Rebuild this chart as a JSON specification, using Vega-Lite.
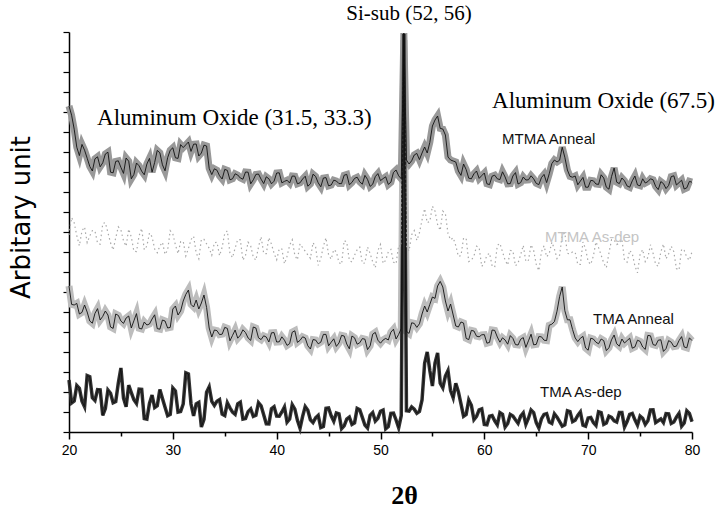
{
  "$schema": "https://vega.github.io/schema/vega-lite/v6.json",
  "width": 623,
  "height": 400,
  "autosize": "none",
  "padding": {"left": 69, "top": 32, "right": 27, "bottom": 84},
  "background": "white",
  "config": {
    "view": {"stroke": null},
    "axis": {"grid": false, "domainColor": "black", "tickColor": "black", "labelColor": "black", "titleColor": "black"},
    "axisX": {"domainWidth": 1.5, "tickWidth": 1.5, "labelFont": "Liberation Sans", "labelFontSize": 14, "labelPadding": 4, "labelFlush": false,
      "titleFont": "Liberation Serif", "titleFontSize": 26, "titleFontWeight": "bold", "titleX": 335, "titleY": 71, "titleBaseline": "alphabetic", "titleAlign": "center"},
    "axisY": {"domainWidth": 1.5, "tickWidth": 1.2, "tickSize": 6, "titleFont": "DejaVu Sans", "titleFontSize": 26, "titleFontWeight": "normal",
      "titleAngle": -90, "titleX": -48, "titleY": 185, "titleAlign": "center", "titleBaseline": "middle"}
  },
  "datasets": {
    "xrd": [
      {"x":20,"a":2.6,"b":7.3,"c":9.86,"d":16.3},
      {"x":20.25,"a":1.45,"b":6.38,"c":10.72,"d":15.84},
      {"x":20.5,"a":1.55,"b":6.35,"c":10.46,"d":15.14},
      {"x":20.75,"a":2.32,"b":6.43,"c":9.82,"d":14.24},
      {"x":21,"a":2.18,"b":5.9,"c":9.31,"d":13.82},
      {"x":21.25,"a":1.54,"b":5.98,"c":10.06,"d":14.38},
      {"x":21.5,"a":1.26,"b":6.35,"c":10.25,"d":14.09},
      {"x":21.75,"a":2.82,"b":6.0,"c":9.47,"d":13.69},
      {"x":22,"a":2.76,"b":5.55,"c":9.8,"d":13.28},
      {"x":22.25,"a":1.72,"b":5.44,"c":10.07,"d":13.05},
      {"x":22.5,"a":1.58,"b":5.93,"c":10.05,"d":13.66},
      {"x":22.75,"a":2.12,"b":6.17,"c":9.44,"d":13.76},
      {"x":23,"a":2.11,"b":5.6,"c":9.39,"d":13.26},
      {"x":23.25,"a":0.83,"b":5.78,"c":10.42,"d":13.46},
      {"x":23.5,"a":1.17,"b":6.05,"c":10.47,"d":13.9},
      {"x":23.75,"a":2.1,"b":5.85,"c":9.97,"d":13.99},
      {"x":24,"a":1.94,"b":5.25,"c":9.46,"d":12.99},
      {"x":24.25,"a":1.46,"b":5.18,"c":9.1,"d":12.96},
      {"x":24.5,"a":1.52,"b":5.9,"c":9.71,"d":13.53},
      {"x":24.75,"a":2.45,"b":5.83,"c":10.26,"d":13.56},
      {"x":25,"a":3.2,"b":5.55,"c":10.1,"d":13.23},
      {"x":25.25,"a":1.69,"b":5.43,"c":9.56,"d":12.93},
      {"x":25.5,"a":1.26,"b":5.7,"c":9.29,"d":13.7},
      {"x":25.75,"a":2.34,"b":5.8,"c":10.15,"d":13.54},
      {"x":26,"a":1.97,"b":5.2,"c":9.75,"d":12.66},
      {"x":26.25,"a":1.61,"b":5.56,"c":9.04,"d":12.88},
      {"x":26.5,"a":1.42,"b":5.92,"c":9.02,"d":13.45},
      {"x":26.75,"a":2.14,"b":5.19,"c":9.81,"d":13.31},
      {"x":27,"a":2.13,"b":5.15,"c":10.18,"d":13.04},
      {"x":27.25,"a":0.67,"b":5.5,"c":9.11,"d":12.86},
      {"x":27.5,"a":0.64,"b":5.35,"c":9.3,"d":13.4},
      {"x":27.75,"a":1.43,"b":5.4,"c":9.95,"d":13.68},
      {"x":28,"a":1.85,"b":5.65,"c":9.76,"d":12.99},
      {"x":28.25,"a":1.22,"b":5.86,"c":9.15,"d":13.48},
      {"x":28.5,"a":1.31,"b":5.17,"c":8.96,"d":14.08},
      {"x":28.75,"a":2.12,"b":5.14,"c":9.3,"d":13.96},
      {"x":29,"a":1.67,"b":5.6,"c":9.49,"d":13.36},
      {"x":29.25,"a":1.24,"b":5.55,"c":8.88,"d":13.06},
      {"x":29.5,"a":0.81,"b":5.2,"c":9.1,"d":13.72},
      {"x":29.75,"a":0.88,"b":5.23,"c":10.07,"d":14.09},
      {"x":30,"a":2.2,"b":6.15,"c":9.91,"d":14.21},
      {"x":30.25,"a":2.05,"b":6.3,"c":9.35,"d":13.71},
      {"x":30.5,"a":0.99,"b":5.85,"c":8.92,"d":13.68},
      {"x":30.75,"a":1.02,"b":6.05,"c":9.51,"d":14.37},
      {"x":31,"a":1.4,"b":6.55,"c":9.54,"d":14.22},
      {"x":31.25,"a":2.96,"b":6.88,"c":8.8,"d":14.36},
      {"x":31.5,"a":2.9,"b":7.1,"c":9.17,"d":14.5},
      {"x":31.75,"a":1.4,"b":6.38,"c":9.62,"d":14.03},
      {"x":32,"a":0.8,"b":6.25,"c":9.79,"d":14.39},
      {"x":32.25,"a":1.41,"b":6.6,"c":8.95,"d":14.4},
      {"x":32.5,"a":1.48,"b":6.15,"c":8.66,"d":13.8},
      {"x":32.75,"a":0.25,"b":6.45,"c":9.64,"d":13.95},
      {"x":33,"a":0.63,"b":6.85,"c":9.63,"d":14.34},
      {"x":33.25,"a":1.99,"b":6.23,"c":9.41,"d":14.3},
      {"x":33.5,"a":2.26,"b":5.2,"c":9.19,"d":13.18},
      {"x":33.75,"a":1.53,"b":4.75,"c":8.84,"d":12.87},
      {"x":34,"a":1.33,"b":5.1,"c":9.46,"d":13.16},
      {"x":34.25,"a":1.54,"b":5.07,"c":9.49,"d":13.09},
      {"x":34.5,"a":1.62,"b":4.87,"c":8.82,"d":12.81},
      {"x":34.75,"a":0.89,"b":4.89,"c":9.24,"d":12.65},
      {"x":35,"a":0.82,"b":5.23,"c":9.93,"d":13.13},
      {"x":35.25,"a":1.46,"b":5.18,"c":10.06,"d":13.08},
      {"x":35.5,"a":1.21,"b":4.56,"c":8.93,"d":12.61},
      {"x":35.75,"a":0.99,"b":4.83,"c":8.72,"d":12.66},
      {"x":36,"a":0.88,"b":5.1,"c":9.2,"d":12.91},
      {"x":36.25,"a":1.41,"b":4.69,"c":9.62,"d":12.85},
      {"x":36.5,"a":1.49,"b":4.84,"c":9.61,"d":12.7},
      {"x":36.75,"a":0.64,"b":5.11,"c":8.59,"d":12.64},
      {"x":37,"a":0.67,"b":4.97,"c":8.83,"d":13.0},
      {"x":37.25,"a":1.02,"b":4.7,"c":9.49,"d":12.99},
      {"x":37.5,"a":1.15,"b":4.58,"c":9.3,"d":12.41},
      {"x":37.75,"a":0.78,"b":5.25,"c":8.74,"d":12.61},
      {"x":38,"a":0.84,"b":5.2,"c":8.59,"d":12.88},
      {"x":38.25,"a":1.47,"b":4.71,"c":9.25,"d":12.9},
      {"x":38.5,"a":1.31,"b":4.62,"c":9.77,"d":12.64},
      {"x":38.75,"a":0.86,"b":4.81,"c":8.93,"d":12.42},
      {"x":39,"a":0.41,"b":4.75,"c":8.92,"d":12.76},
      {"x":39.25,"a":0.4,"b":4.5,"c":9.72,"d":12.66},
      {"x":39.5,"a":1.16,"b":4.96,"c":9.39,"d":12.41},
      {"x":39.75,"a":1.26,"b":4.97,"c":8.93,"d":12.54},
      {"x":40,"a":0.8,"b":4.5,"c":8.61,"d":12.95},
      {"x":40.25,"a":0.79,"b":4.51,"c":9.16,"d":12.96},
      {"x":40.5,"a":1.0,"b":4.76,"c":9.15,"d":12.46},
      {"x":40.75,"a":1.25,"b":4.59,"c":8.41,"d":12.53},
      {"x":41,"a":0.49,"b":4.33,"c":8.79,"d":12.59},
      {"x":41.25,"a":0.65,"b":4.42,"c":9.34,"d":12.45},
      {"x":41.5,"a":1.36,"b":4.99,"c":9.61,"d":12.8},
      {"x":41.75,"a":1.14,"b":5.06,"c":8.83,"d":12.79},
      {"x":42,"a":0.58,"b":4.48,"c":8.61,"d":12.41},
      {"x":42.25,"a":0.18,"b":4.58,"c":9.41,"d":12.46},
      {"x":42.5,"a":0.78,"b":4.76,"c":9.22,"d":12.65},
      {"x":42.75,"a":1.27,"b":4.7,"c":9.04,"d":12.79},
      {"x":43,"a":1.09,"b":4.31,"c":8.86,"d":12.29},
      {"x":43.25,"a":0.61,"b":4.15,"c":8.68,"d":12.41},
      {"x":43.5,"a":0.47,"b":4.62,"c":9.47,"d":12.89},
      {"x":43.75,"a":0.71,"b":4.6,"c":9.25,"d":12.78},
      {"x":44,"a":0.83,"b":4.41,"c":8.33,"d":12.46},
      {"x":44.25,"a":0.22,"b":4.49,"c":8.67,"d":12.26},
      {"x":44.5,"a":0.27,"b":4.88,"c":9.29,"d":12.7},
      {"x":44.75,"a":1.18,"b":4.88,"c":9.71,"d":12.72},
      {"x":45,"a":1.2,"b":4.31,"c":8.86,"d":12.31},
      {"x":45.25,"a":0.81,"b":4.49,"c":8.64,"d":12.35},
      {"x":45.5,"a":0.54,"b":4.66,"c":9.12,"d":12.59},
      {"x":45.75,"a":0.95,"b":4.28,"c":9.01,"d":12.55},
      {"x":46,"a":0.91,"b":4.45,"c":8.47,"d":12.42},
      {"x":46.25,"a":0.17,"b":4.83,"c":8.39,"d":12.42},
      {"x":46.5,"a":0.31,"b":4.8,"c":9.57,"d":12.84},
      {"x":46.75,"a":0.64,"b":4.4,"c":9.5,"d":12.88},
      {"x":47,"a":0.74,"b":4.16,"c":8.58,"d":12.36},
      {"x":47.25,"a":0.38,"b":4.8,"c":8.5,"d":12.48},
      {"x":47.5,"a":0.46,"b":4.71,"c":8.84,"d":12.68},
      {"x":47.75,"a":1.18,"b":4.39,"c":9.11,"d":12.74},
      {"x":48,"a":1.11,"b":4.46,"c":9.24,"d":12.51},
      {"x":48.25,"a":0.73,"b":4.67,"c":8.43,"d":12.39},
      {"x":48.5,"a":0.34,"b":4.64,"c":8.45,"d":12.83},
      {"x":48.75,"a":0.2,"b":4.12,"c":9.25,"d":12.63},
      {"x":49,"a":0.83,"b":4.31,"c":8.93,"d":12.28},
      {"x":49.25,"a":0.97,"b":4.89,"c":8.5,"d":12.39},
      {"x":49.5,"a":0.55,"b":4.98,"c":8.21,"d":12.77},
      {"x":49.75,"a":0.69,"b":4.59,"c":9.08,"d":12.92},
      {"x":50,"a":1.04,"b":4.44,"c":9.38,"d":12.57},
      {"x":50.25,"a":1.1,"b":4.6,"c":8.43,"d":12.67},
      {"x":50.5,"a":0.16,"b":4.68,"c":8.59,"d":12.76},
      {"x":50.75,"a":0.27,"b":4.6,"c":9.0,"d":12.38},
      {"x":51,"a":0.93,"b":4.99,"c":9.13,"d":12.49},
      {"x":51.25,"a":0.94,"b":5.14,"c":8.49,"d":12.98},
      {"x":51.5,"a":0.6,"b":4.65,"c":8.41,"d":13.1},
      {"x":51.75,"a":0.21,"b":4.88,"c":9.33,"d":12.81},
      {"x":52,"a":0.82,"b":5.18,"c":9.27,"d":12.66},
      {"x":52.25,"a":19.9,"b":19.6,"c":18.8,"d":19.95},
      {"x":52.5,"a":1.06,"b":5.03,"c":9.22,"d":13.6},
      {"x":52.75,"a":1.04,"b":4.93,"c":9.05,"d":13.4},
      {"x":53,"a":1.25,"b":5.46,"c":9.86,"d":13.56},
      {"x":53.25,"a":1.14,"b":5.43,"c":10.07,"d":13.85},
      {"x":53.5,"a":0.94,"b":5.23,"c":9.58,"d":13.93},
      {"x":53.75,"a":1.03,"b":5.41,"c":9.96,"d":13.62},
      {"x":54,"a":1.6,"b":5.9,"c":10.61,"d":13.95},
      {"x":54.25,"a":3.44,"b":6.3,"c":11.17,"d":14.25},
      {"x":54.5,"a":4.0,"b":6.0,"c":10.46,"d":13.95},
      {"x":54.75,"a":3.07,"b":6.38,"c":10.53,"d":14.48},
      {"x":55,"a":2.3,"b":6.75,"c":11.29,"d":15.3},
      {"x":55.25,"a":3.45,"b":6.68,"c":11.04,"d":15.6},
      {"x":55.5,"a":3.95,"b":7.3,"c":10.37,"d":15.8},
      {"x":55.75,"a":2.44,"b":7.53,"c":10.08,"d":15.18},
      {"x":56,"a":2.21,"b":7.25,"c":11.05,"d":15.15},
      {"x":56.25,"a":2.8,"b":6.55,"c":10.91,"d":14.85},
      {"x":56.5,"a":3.07,"b":6.05,"c":9.93,"d":13.75},
      {"x":56.75,"a":2.07,"b":6.4,"c":9.61,"d":13.6},
      {"x":57,"a":1.71,"b":5.85,"c":9.71,"d":13.55},
      {"x":57.25,"a":2.43,"b":5.3,"c":9.32,"d":13.5},
      {"x":57.5,"a":2.02,"b":5.25,"c":8.78,"d":13.05},
      {"x":57.75,"a":1.41,"b":5.5,"c":8.82,"d":12.83},
      {"x":58,"a":0.79,"b":5.45,"c":9.7,"d":13.4},
      {"x":58.25,"a":0.88,"b":4.68,"c":9.67,"d":13.12},
      {"x":58.5,"a":1.6,"b":4.62,"c":8.52,"d":12.69},
      {"x":58.75,"a":1.34,"b":5.08,"c":8.59,"d":12.66},
      {"x":59,"a":0.62,"b":5.05,"c":8.8,"d":12.91},
      {"x":59.25,"a":0.78,"b":4.79,"c":9.29,"d":13.05},
      {"x":59.5,"a":1.11,"b":4.76,"c":9.22,"d":12.68},
      {"x":59.75,"a":1.16,"b":4.86,"c":8.28,"d":12.82},
      {"x":60,"a":0.38,"b":4.87,"c":8.45,"d":12.95},
      {"x":60.25,"a":0.36,"b":4.44,"c":8.84,"d":12.41},
      {"x":60.5,"a":0.79,"b":4.48,"c":8.94,"d":12.37},
      {"x":60.75,"a":0.82,"b":5.1,"c":8.31,"d":12.79},
      {"x":61,"a":0.56,"b":5.08,"c":8.24,"d":12.84},
      {"x":61.25,"a":0.36,"b":4.75,"c":9.33,"d":12.66},
      {"x":61.5,"a":0.97,"b":4.49,"c":9.43,"d":12.62},
      {"x":61.75,"a":0.88,"b":4.71,"c":9.01,"d":13.01},
      {"x":62,"a":0.25,"b":4.6,"c":8.59,"d":12.75},
      {"x":62.25,"a":0.43,"b":4.39,"c":8.35,"d":12.41},
      {"x":62.5,"a":0.88,"b":4.82,"c":9.08,"d":12.42},
      {"x":62.75,"a":0.8,"b":4.68,"c":9.05,"d":12.8},
      {"x":63,"a":0.61,"b":4.37,"c":8.31,"d":12.97},
      {"x":63.25,"a":0.43,"b":4.35,"c":8.45,"d":12.4},
      {"x":63.5,"a":0.79,"b":4.64,"c":8.87,"d":12.47},
      {"x":63.75,"a":0.95,"b":4.72,"c":9.33,"d":12.75},
      {"x":64,"a":0.38,"b":4.23,"c":8.52,"d":12.6},
      {"x":64.25,"a":0.69,"b":4.56,"c":8.59,"d":12.61},
      {"x":64.5,"a":1.1,"b":4.89,"c":9.36,"d":12.81},
      {"x":64.75,"a":0.97,"b":4.36,"c":9.08,"d":12.66},
      {"x":65,"a":0.47,"b":4.38,"c":8.38,"d":12.43},
      {"x":65.25,"a":0.2,"b":4.77,"c":8.07,"d":12.37},
      {"x":65.5,"a":0.65,"b":4.76,"c":9.01,"d":12.72},
      {"x":65.75,"a":0.88,"b":4.59,"c":9.31,"d":12.88},
      {"x":66,"a":0.92,"b":4.57,"c":8.76,"d":12.47},
      {"x":66.25,"a":0.5,"b":5.34,"c":8.92,"d":12.91},
      {"x":66.5,"a":0.43,"b":5.39,"c":9.49,"d":13.42},
      {"x":66.75,"a":0.91,"b":5.52,"c":9.15,"d":13.6},
      {"x":67,"a":0.74,"b":6.04,"c":8.67,"d":13.5},
      {"x":67.25,"a":0.52,"b":6.77,"c":8.84,"d":13.59},
      {"x":67.5,"a":0.29,"b":7.25,"c":9.85,"d":14.24},
      {"x":67.75,"a":0.36,"b":6.07,"c":9.95,"d":13.74},
      {"x":68,"a":1.06,"b":5.61,"c":8.93,"d":13.1},
      {"x":68.25,"a":1.02,"b":5.61,"c":8.9,"d":12.78},
      {"x":68.5,"a":0.52,"b":5.12,"c":9.01,"d":12.74},
      {"x":68.75,"a":0.59,"b":4.7,"c":8.98,"d":12.8},
      {"x":69,"a":0.83,"b":4.52,"c":8.38,"d":12.36},
      {"x":69.25,"a":1.0,"b":4.69,"c":8.38,"d":12.55},
      {"x":69.5,"a":0.34,"b":4.78,"c":9.5,"d":12.73},
      {"x":69.75,"a":0.29,"b":4.2,"c":9.15,"d":12.24},
      {"x":70,"a":0.7,"b":4.09,"c":8.52,"d":12.24},
      {"x":70.25,"a":0.73,"b":4.69,"c":8.38,"d":12.58},
      {"x":70.5,"a":0.47,"b":4.65,"c":8.8,"d":12.56},
      {"x":70.75,"a":0.33,"b":4.49,"c":9.5,"d":12.4},
      {"x":71,"a":1.01,"b":4.41,"c":9.22,"d":12.38},
      {"x":71.25,"a":0.97,"b":4.65,"c":8.84,"d":12.86},
      {"x":71.5,"a":0.38,"b":4.57,"c":8.45,"d":12.7},
      {"x":71.75,"a":0.45,"b":4.07,"c":8.21,"d":12.24},
      {"x":72,"a":0.79,"b":4.21,"c":8.94,"d":12.14},
      {"x":72.25,"a":0.73,"b":4.61,"c":9.62,"d":12.77},
      {"x":72.5,"a":0.56,"b":4.85,"c":9.6,"d":13.2},
      {"x":72.75,"a":0.5,"b":4.41,"c":9.38,"d":12.49},
      {"x":73,"a":0.97,"b":4.29,"c":9.43,"d":12.42},
      {"x":73.25,"a":0.97,"b":4.65,"c":9.64,"d":12.7},
      {"x":73.5,"a":0.25,"b":4.45,"c":8.59,"d":12.56},
      {"x":73.75,"a":0.52,"b":4.57,"c":8.49,"d":12.3},
      {"x":74,"a":0.88,"b":4.69,"c":9.08,"d":12.24},
      {"x":74.25,"a":0.93,"b":4.19,"c":8.91,"d":12.56},
      {"x":74.5,"a":0.61,"b":4.25,"c":8.31,"d":12.8},
      {"x":74.75,"a":0.34,"b":4.59,"c":7.96,"d":12.35},
      {"x":75,"a":0.79,"b":4.53,"c":8.87,"d":12.31},
      {"x":75.25,"a":0.68,"b":4.25,"c":9.12,"d":12.66},
      {"x":75.5,"a":0.38,"b":4.13,"c":8.52,"d":12.45},
      {"x":75.75,"a":0.56,"b":4.83,"c":8.73,"d":12.52},
      {"x":76,"a":1.1,"b":4.81,"c":9.36,"d":12.66},
      {"x":76.25,"a":1.11,"b":4.37,"c":8.94,"d":12.61},
      {"x":76.5,"a":0.47,"b":4.33,"c":8.38,"d":12.28},
      {"x":76.75,"a":0.56,"b":4.59,"c":8.28,"d":12.12},
      {"x":77,"a":0.65,"b":4.61,"c":9.01,"d":12.52},
      {"x":77.25,"a":0.47,"b":4.03,"c":9.4,"d":12.42},
      {"x":77.5,"a":0.92,"b":4.17,"c":8.66,"d":12.17},
      {"x":77.75,"a":0.91,"b":4.57,"c":8.91,"d":12.33},
      {"x":78,"a":0.43,"b":4.49,"c":9.29,"d":12.77},
      {"x":78.25,"a":0.5,"b":4.27,"c":9.01,"d":12.81},
      {"x":78.5,"a":0.74,"b":4.29,"c":8.17,"d":12.35},
      {"x":78.75,"a":0.93,"b":4.57,"c":8.1,"d":12.47},
      {"x":79,"a":0.29,"b":4.77,"c":9.15,"d":12.59},
      {"x":79.25,"a":0.45,"b":4.25,"c":9.08,"d":12.15},
      {"x":79.5,"a":1.06,"b":4.21,"c":8.73,"d":12.21},
      {"x":79.75,"a":0.93,"b":4.71,"c":8.59,"d":12.53},
      {"x":80,"a":0.52,"b":4.57,"c":9.01,"d":12.49}
    ]
  },
  "layer": [
    {
      "data": {"name": "xrd"},
      "transform": [{"fold": ["b", "d"], "as": ["s", "v"]}],
      "mark": {"type": "line", "strokeWidth": 7, "strokeJoin": "miter"},
      "encoding": {
        "x": {"field": "x", "type": "quantitative", "scale": {"domain": [20, 80], "nice": false, "zero": false},
          "axis": {"values": [20,25,30,35,40,45,50,55,60,65,70,75,80], "labelExpr": "datum.value % 10 === 0 ? datum.label : ''",
            "tickSize": {"condition": {"test": "datum.value % 10 !== 0", "value": 4}, "value": 7}, "title": "2θ"}},
        "y": {"field": "v", "type": "quantitative", "scale": {"domain": [0, 20], "nice": false},
          "axis": {"values": [0,1,2,3,4,5,6,7,8,9,10,11,12,13,14,15,16,17,18,19,20], "labels": false, "title": "Arbitary unit"}},
        "color": {"field": "s", "type": "nominal", "scale": {"domain": ["b", "d"], "range": ["#bdbdbd", "#999999"]}, "legend": null}
      }
    },
    {
      "data": {"name": "xrd"},
      "mark": {"type": "line", "color": "#333333", "strokeWidth": 3.5, "strokeJoin": "miter"},
      "encoding": {
        "x": {"field": "x", "type": "quantitative",
          "axis": {"values": [20,25,30,35,40,45,50,55,60,65,70,75,80], "labelExpr": "datum.value % 10 === 0 ? datum.label : ''",
            "tickSize": {"condition": {"test": "datum.value % 10 !== 0", "value": 4}, "value": 7}, "title": "2θ"}},
        "y": {"field": "a", "type": "quantitative",
          "axis": {"values": [0,1,2,3,4,5,6,7,8,9,10,11,12,13,14,15,16,17,18,19,20], "labels": false, "title": "Arbitary unit"}}
      }
    },
    {
      "data": {"name": "xrd"},
      "mark": {"type": "line", "color": "#a8a8a8", "strokeWidth": 1.2, "strokeDash": [1.5, 3]},
      "encoding": {
        "x": {"field": "x", "type": "quantitative",
          "axis": {"values": [20,25,30,35,40,45,50,55,60,65,70,75,80], "labelExpr": "datum.value % 10 === 0 ? datum.label : ''",
            "tickSize": {"condition": {"test": "datum.value % 10 !== 0", "value": 4}, "value": 7}, "title": "2θ"}},
        "y": {"field": "c", "type": "quantitative",
          "axis": {"values": [0,1,2,3,4,5,6,7,8,9,10,11,12,13,14,15,16,17,18,19,20], "labels": false, "title": "Arbitary unit"}}
      }
    },
    {
      "data": {"name": "xrd"},
      "transform": [{"fold": ["a", "b", "d"], "as": ["s", "v"]}],
      "mark": {"type": "line", "color": "#111111", "strokeWidth": 0.9},
      "encoding": {
        "x": {"field": "x", "type": "quantitative",
          "axis": {"values": [20,25,30,35,40,45,50,55,60,65,70,75,80], "labelExpr": "datum.value % 10 === 0 ? datum.label : ''",
            "tickSize": {"condition": {"test": "datum.value % 10 !== 0", "value": 4}, "value": 7}, "title": "2θ"}},
        "y": {"field": "v", "type": "quantitative",
          "axis": {"values": [0,1,2,3,4,5,6,7,8,9,10,11,12,13,14,15,16,17,18,19,20], "labels": false, "title": "Arbitary unit"}},
        "detail": {"field": "s", "type": "nominal"}
      }
    },
    {
      "data": {"values": [
        {"x": 22.7, "y": 15.7, "t": "Aluminum Oxide (31.5, 33.3)"},
        {"x": 60.74, "y": 16.55, "t": "Aluminum Oxide (67.5)"}
      ]},
      "mark": {"type": "text", "font": "Liberation Serif", "fontSize": 23, "align": "left", "baseline": "middle", "color": "black"},
      "encoding": {
        "x": {"field": "x", "type": "quantitative",
          "axis": {"values": [20,25,30,35,40,45,50,55,60,65,70,75,80], "labelExpr": "datum.value % 10 === 0 ? datum.label : ''",
            "tickSize": {"condition": {"test": "datum.value % 10 !== 0", "value": 4}, "value": 7}, "title": "2θ"}},
        "y": {"field": "y", "type": "quantitative",
          "axis": {"values": [0,1,2,3,4,5,6,7,8,9,10,11,12,13,14,15,16,17,18,19,20], "labels": false, "title": "Arbitary unit"}},
        "text": {"field": "t"}
      }
    },
    {
      "data": {"values": [
        {"x": 52.75, "y": 20.9, "t": "Si-sub (52, 56)"}
      ]},
      "mark": {"type": "text", "font": "Liberation Serif", "fontSize": 21, "align": "center", "baseline": "middle", "color": "black"},
      "encoding": {
        "x": {"field": "x", "type": "quantitative",
          "axis": {"values": [20,25,30,35,40,45,50,55,60,65,70,75,80], "labelExpr": "datum.value % 10 === 0 ? datum.label : ''",
            "tickSize": {"condition": {"test": "datum.value % 10 !== 0", "value": 4}, "value": 7}, "title": "2θ"}},
        "y": {"field": "y", "type": "quantitative",
          "axis": {"values": [0,1,2,3,4,5,6,7,8,9,10,11,12,13,14,15,16,17,18,19,20], "labels": false, "title": "Arbitary unit"}},
        "text": {"field": "t"}
      }
    },
    {
      "data": {"values": [
        {"x": 61.7, "y": 14.65, "t": "MTMA Anneal", "g": "dark"},
        {"x": 70.47, "y": 5.65, "t": "TMA Anneal", "g": "dark"},
        {"x": 65.36, "y": 2.0, "t": "TMA As-dep", "g": "dark"},
        {"x": 65.84, "y": 9.75, "t": "MTMA As-dep", "g": "faint"}
      ]},
      "mark": {"type": "text", "font": "Liberation Sans", "fontSize": 15, "align": "left", "baseline": "middle"},
      "encoding": {
        "x": {"field": "x", "type": "quantitative",
          "axis": {"values": [20,25,30,35,40,45,50,55,60,65,70,75,80], "labelExpr": "datum.value % 10 === 0 ? datum.label : ''",
            "tickSize": {"condition": {"test": "datum.value % 10 !== 0", "value": 4}, "value": 7}, "title": "2θ"}},
        "y": {"field": "y", "type": "quantitative",
          "axis": {"values": [0,1,2,3,4,5,6,7,8,9,10,11,12,13,14,15,16,17,18,19,20], "labels": false, "title": "Arbitary unit"}},
        "text": {"field": "t"},
        "color": {"condition": {"test": "datum.g === 'faint'", "value": "#c4c4c4"}, "value": "#111111"}
      }
    }
  ]
}
